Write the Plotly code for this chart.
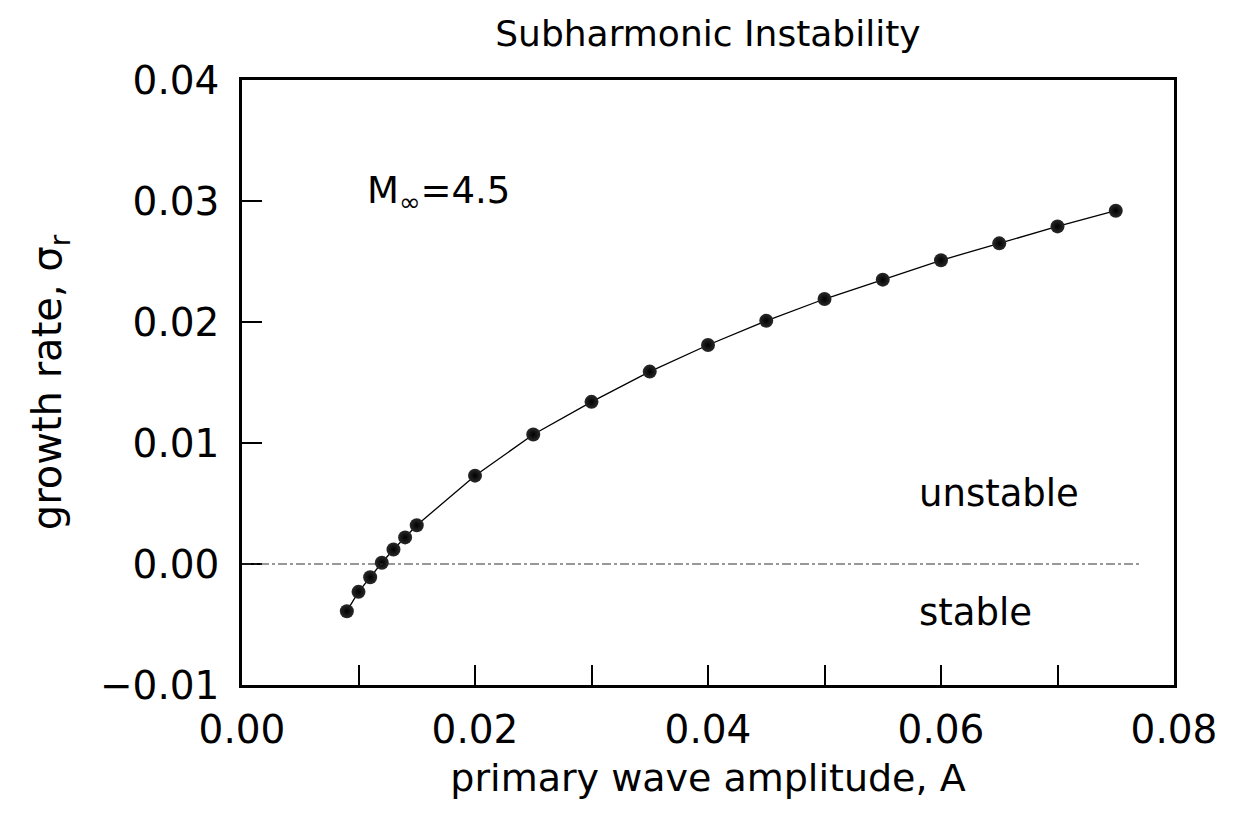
import plotly.graph_objects as go

amplitude = [0.009, 0.010, 0.011, 0.012, 0.013, 0.014, 0.015, 0.020, 0.025, 0.030,
             0.035, 0.040, 0.045, 0.050, 0.055, 0.060, 0.065, 0.070, 0.075]
growth_rate = [-0.0039, -0.0023, -0.0011, 0.0001, 0.0012, 0.0022, 0.0032, 0.0073, 0.0107, 0.0134,
               0.0159, 0.0181, 0.0201, 0.0219, 0.0235, 0.0251, 0.0265, 0.0279, 0.0292]

x_ticks = [0.00, 0.02, 0.04, 0.06, 0.08]
x_tick_labels = ["0.00", "0.02", "0.04", "0.06", "0.08"]
y_ticks = [-0.01, 0.00, 0.01, 0.02, 0.03, 0.04]
y_tick_labels = ["\u22120.01", "0.00", "0.01", "0.02", "0.03", "0.04"]

FONT = "DejaVu Sans"

fig = go.Figure()
fig.add_trace(go.Scatter(
    x=amplitude, y=growth_rate, mode="lines+markers",
    line=dict(color="black", width=1.3),
    marker=dict(color="#2a2a2a", size=14,
                gradient=dict(type="radial", color="#000000"),
                line=dict(width=0)),
    showlegend=False,
))

fig.add_shape(type="line", xref="paper", yref="y", x0=0.0, x1=0.965, y0=0, y1=0,
              line=dict(color="#333333", width=1.1, dash="dashdot"))

fig.add_annotation(x=0.0106, y=0.0307, xref="x", yref="y", xanchor="left", yanchor="middle",
                   text="M<sub>\u221e</sub>=4.5", showarrow=False,
                   font=dict(family=FONT, size=37, color="black"))
fig.add_annotation(x=0.0579, y=0.0058, xref="x", yref="y", xanchor="left", yanchor="middle",
                   text="unstable", showarrow=False,
                   font=dict(family=FONT, size=37, color="black"))
fig.add_annotation(x=0.0579, y=-0.0040, xref="x", yref="y", xanchor="left", yanchor="middle",
                   text="stable", showarrow=False,
                   font=dict(family=FONT, size=37, color="black"))

fig.update_layout(
    width=1234, height=814,
    margin=dict(l=234, r=68, t=72, b=137),
    paper_bgcolor="white", plot_bgcolor="white",
    font=dict(family=FONT, color="black"),
    title=dict(text="Subharmonic Instability", x=0.5672, xanchor="center",
               y=0.984, yanchor="top", font=dict(family=FONT, size=36, color="black")),
)

fig.update_xaxes(
    range=[0.0, 0.08], tickmode="array", tickvals=x_ticks, ticktext=x_tick_labels,
    ticks="inside", ticklen=20, tickwidth=1.5, tickcolor="black",
    minor=dict(dtick=0.01, ticks="inside", ticklen=20, tickwidth=1.5, tickcolor="black", showgrid=False),
    showline=True, linecolor="black", linewidth=2.5, mirror=True,
    showgrid=False, zeroline=False,
    tickfont=dict(family=FONT, size=39, color="black"), ticklabelstandoff=8,
    title=dict(text="primary wave amplitude, A", font=dict(family=FONT, size=38, color="black"), standoff=14),
)
fig.update_yaxes(
    range=[-0.01, 0.04], tickmode="array", tickvals=y_ticks, ticktext=y_tick_labels,
    ticks="inside", ticklen=20, tickwidth=1.5, tickcolor="black",
    showline=True, linecolor="black", linewidth=2.5, mirror=True,
    showgrid=False, zeroline=False,
    tickfont=dict(family=FONT, size=39, color="black"), ticklabelstandoff=12,
    title=dict(text="growth rate, \u03c3<sub>r</sub>", font=dict(family=FONT, size=40, color="black"), standoff=26),
)

fig.write_html("out.html")
